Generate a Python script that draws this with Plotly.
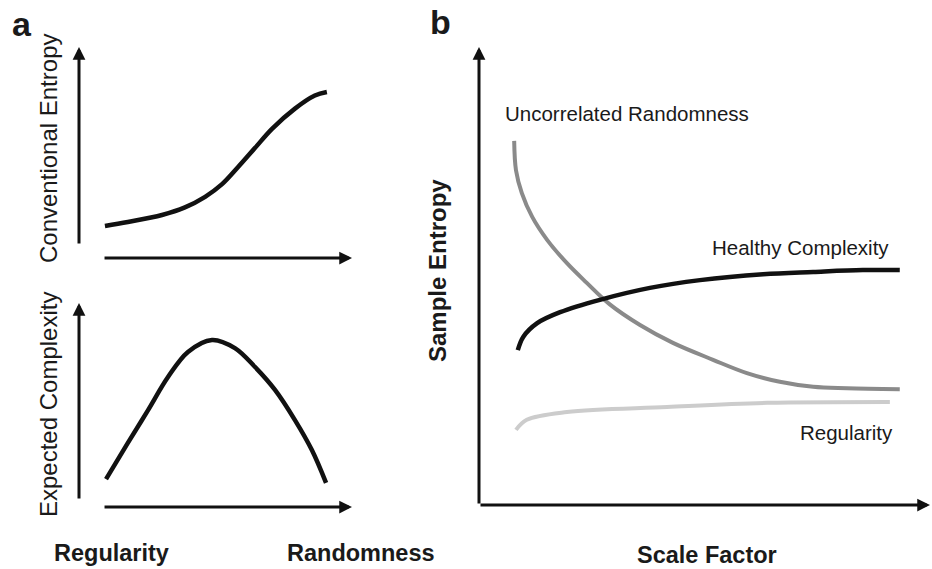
import plotly.graph_objects as go

# ---- data (conceptual units, 0..10 on each axis) ----
conv_x = [0.95, 1.79, 3.04, 3.88, 4.62, 5.24, 5.82, 6.45, 7.07, 7.91, 8.64, 9.08]
conv_y = [1.52, 1.71, 2.04, 2.40, 2.90, 3.50, 4.30, 5.22, 6.12, 7.08, 7.70, 7.87]

comp_x = [0.99, 1.79, 2.53, 3.26, 3.99, 4.87, 5.71, 6.45, 7.18, 7.91, 8.53, 9.05]
comp_y = [1.37, 3.14, 4.75, 6.37, 7.60, 8.19, 7.79, 6.86, 5.74, 4.26, 2.79, 1.18]

rand_x = [0.78, 0.82, 0.95, 1.18, 1.51, 1.95, 2.39, 2.90, 3.57, 4.30, 5.19, 5.94, 6.67, 7.41, 8.16, 9.33]
rand_y = [7.95, 7.31, 6.81, 6.29, 5.79, 5.28, 4.85, 4.38, 3.93, 3.54, 3.17, 2.88, 2.69, 2.58, 2.55, 2.53]

healthy_x = [0.86, 0.98, 1.29, 1.80, 2.68, 3.79, 4.90, 6.30, 7.41, 8.51, 9.33]
healthy_y = [3.38, 3.67, 3.97, 4.21, 4.48, 4.74, 4.91, 5.04, 5.09, 5.13, 5.13]

reg_x = [0.82, 1.06, 1.95, 4.17, 6.39, 9.11]
reg_y = [1.64, 1.86, 2.03, 2.14, 2.23, 2.25]

W, H = 932, 569
FONT = "Liberation Sans, Arial, sans-serif"
TXT = "#1a1a1a"

def px_x(p):
    return p / W

def px_y(p):
    return 1 - p / H

fig = go.Figure()

def line(x, y, color, width, xa, ya):
    fig.add_trace(go.Scatter(x=x, y=y, mode="lines",
                             line=dict(color=color, width=width, shape="spline", smoothing=1.0),
                             xaxis=xa, yaxis=ya, showlegend=False, hoverinfo="skip"))

line(conv_x, conv_y, "#111111", 4.5, "x", "y")
line(comp_x, comp_y, "#111111", 4.5, "x2", "y2")
line(rand_x, rand_y, "#8a8a8a", 4, "x3", "y3")
line(healthy_x, healthy_y, "#111111", 4.5, "x3", "y3")
line(reg_x, reg_y, "#cccccc", 4, "x3", "y3")

ann = []

def arrow(xref, yref, x0, y0, x1, y1):
    ann.append(dict(x=x1, y=y1, ax=x0, ay=y0, xref=xref, yref=yref,
                    axref=xref, ayref=yref, text="", showarrow=True,
                    arrowhead=2, arrowsize=0.85, arrowwidth=3, arrowcolor="#111111"))

# panel a top
arrow("x", "y", 0, 0.62, 0, 10)
arrow("x", "y", 0.88, 0, 10, 0)
# panel a bottom
arrow("x2", "y2", 0, 0.34, 0, 10)
arrow("x2", "y2", 0.88, 0, 10, 0)
# panel b
arrow("x3", "y3", 0, 0, 0, 10)
arrow("x3", "y3", 0, 0, 10, 0)

def text(t, x, y, size, bold=False, angle=0, xref="paper", yref="paper", color=TXT):
    ann.append(dict(text=("<b>%s</b>" % t) if bold else t, x=x, y=y, xref=xref, yref=yref,
                    showarrow=False, textangle=angle, xanchor="center", yanchor="middle",
                    font=dict(family=FONT, size=size, color=color)))

text("a", px_x(22), px_y(24), 34, bold=True)
text("b", px_x(440), px_y(22), 34, bold=True)
text("Conventional Entropy", px_x(48), px_y(149), 24, angle=-90)
text("Expected Complexity", px_x(48), px_y(405), 24, angle=-90)
text("Regularity", px_x(111), px_y(553), 23.5, bold=True)
text("Randomness", px_x(361), px_y(553), 23.5, bold=True)
text("Sample Entropy", px_x(437), px_y(271), 24, bold=True, angle=-90)
text("Scale Factor", px_x(707), px_y(555), 23.5, bold=True)
text("Uncorrelated Randomness", px_x(627), px_y(113), 20.5)
text("Healthy Complexity", px_x(800), px_y(248), 20.5)
text("Regularity", px_x(846), px_y(432), 20.5)

hid = dict(visible=False, fixedrange=True)
fig.update_layout(
    width=W, height=H,
    margin=dict(l=0, r=0, t=0, b=0),
    paper_bgcolor="white", plot_bgcolor="rgba(0,0,0,0)",
    xaxis=dict(domain=[px_x(79), px_x(352)], range=[0, 10], anchor="y", **hid),
    yaxis=dict(domain=[px_y(258), px_y(47)], range=[0, 10], anchor="x", **hid),
    xaxis2=dict(domain=[px_x(79), px_x(352)], range=[0, 10], anchor="y2", **hid),
    yaxis2=dict(domain=[px_y(507), px_y(303)], range=[0, 10], anchor="x2", **hid),
    xaxis3=dict(domain=[px_x(479), px_x(930)], range=[0, 10], anchor="y3", **hid),
    yaxis3=dict(domain=[px_y(505), px_y(47)], range=[0, 10], anchor="x3", **hid),
    annotations=ann,
)

fig.write_html("out.html")
